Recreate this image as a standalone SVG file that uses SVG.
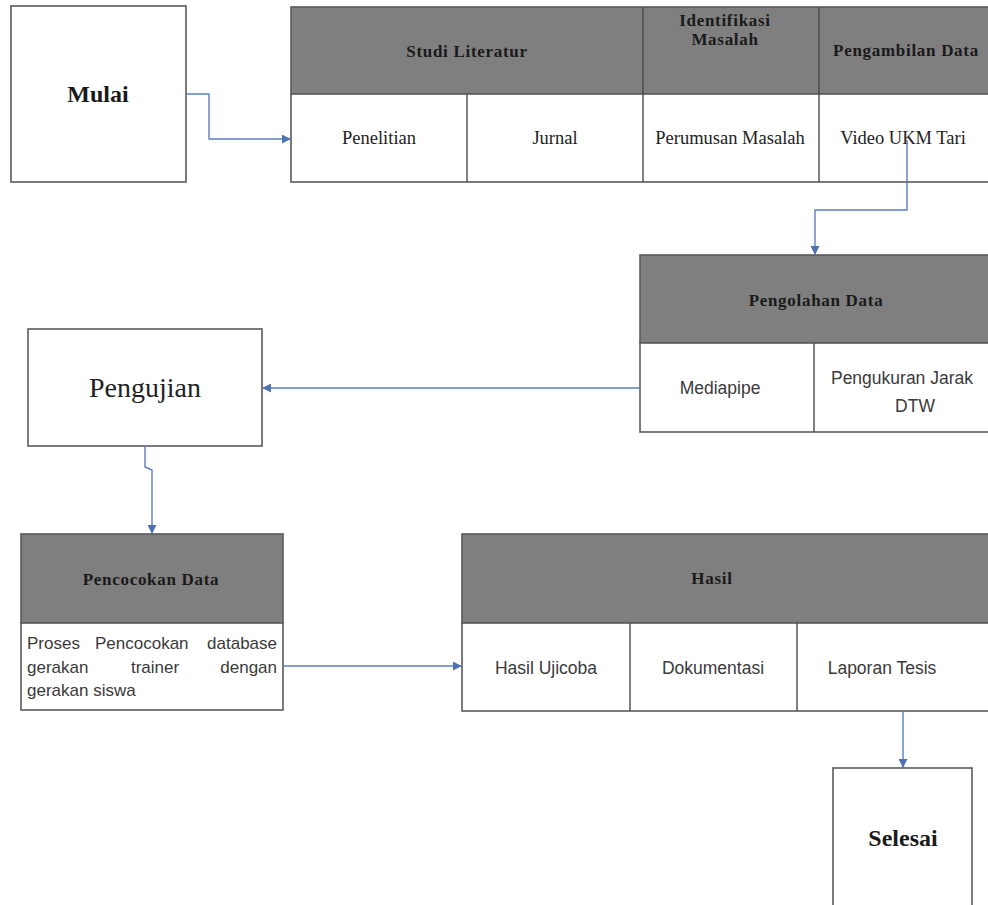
<svg xmlns="http://www.w3.org/2000/svg" width="988" height="905" viewBox="0 0 988 905">
<defs>
<marker id="ah" viewBox="0 0 10 10" refX="9" refY="5" markerWidth="9" markerHeight="9" markerUnits="userSpaceOnUse" orient="auto">
<path d="M0,0 L10,5 L0,10 z" fill="#4f72b0"/>
</marker>
<style>
.box{fill:#ffffff;stroke:#5a5a5a;stroke-width:1.6}
.hdr{fill:#7f7f7f;stroke:#5a5a5a;stroke-width:1.6}
.ln{stroke:#4a4a4a;stroke-width:1.4;fill:none}
.con{fill:none;stroke:#5b80be;stroke-width:1.4;marker-end:url(#ah)}
.hb{font-family:"Liberation Serif","DejaVu Serif",serif;font-weight:bold;font-size:17px;fill:#1a1a1a;text-anchor:middle;letter-spacing:0.7px}
.sr{font-family:"Liberation Serif","DejaVu Serif",serif;font-size:18.5px;fill:#222;text-anchor:middle}
.ss{font-family:"Liberation Sans","DejaVu Sans",sans-serif;font-size:17.5px;fill:#3a3a3a;text-anchor:middle}
.sj{font-family:"Liberation Sans","DejaVu Sans",sans-serif;font-size:17px;fill:#3a3a3a}
.big{font-family:"Liberation Serif","DejaVu Serif",serif;font-weight:bold;font-size:24px;fill:#1a1a1a;text-anchor:middle}
</style>
</defs>
<rect width="988" height="905" fill="#ffffff"/>

<g id="mulai">
<rect class="box" x="11" y="6" width="175" height="176"/>
<text class="big" x="98" y="102">Mulai</text>
</g>

<g id="tahap1">
<rect class="hdr" x="291" y="7" width="700" height="87"/>
<rect class="box" x="291" y="94" width="700" height="88"/>
<line class="ln" x1="643" y1="7" x2="643" y2="182"/>
<line class="ln" x1="819" y1="7" x2="819" y2="182"/>
<line class="ln" x1="467" y1="94" x2="467" y2="182"/>
<text class="hb" x="467" y="57">Studi Literatur</text>
<text class="hb" x="725" y="26">Identifikasi</text>
<text class="hb" x="725" y="45">Masalah</text>
<text class="hb" x="906" y="56">Pengambilan Data</text>
<text class="sr" x="379" y="144">Penelitian</text>
<text class="sr" x="555" y="144">Jurnal</text>
<text class="sr" x="730" y="144">Perumusan Masalah</text>
<text class="sr" x="903" y="144">Video UKM Tari</text>
</g>

<g id="pengolahan">
<rect class="hdr" x="640" y="255" width="352" height="88"/>
<rect class="box" x="640" y="343" width="352" height="89"/>
<line class="ln" x1="814" y1="343" x2="814" y2="432"/>
<text class="hb" x="816" y="306">Pengolahan Data</text>
<text class="ss" x="720" y="394">Mediapipe</text>
<text class="ss" x="902" y="384">Pengukuran Jarak</text>
<text class="ss" x="915" y="412">DTW</text>
</g>

<g id="pengujian">
<rect class="box" x="28" y="329" width="234" height="117"/>
<text x="145" y="397" font-family="Liberation Serif, DejaVu Serif, serif" font-size="28" fill="#222" text-anchor="middle">Pengujian</text>
</g>

<g id="pencocokan">
<rect class="hdr" x="21" y="534" width="262" height="89"/>
<rect class="box" x="21" y="623" width="262" height="87"/>
<text class="hb" x="151" y="585">Pencocokan Data</text>
<text class="sj" x="27" y="649">Proses</text>
<text class="sj" x="95" y="649">Pencocokan</text>
<text class="sj" x="277" y="649" text-anchor="end">database</text>
<text class="sj" x="27" y="673">gerakan</text>
<text class="sj" x="155" y="673" text-anchor="middle">trainer</text>
<text class="sj" x="277" y="673" text-anchor="end">dengan</text>
<text class="sj" x="27" y="696">gerakan siswa</text>
</g>

<g id="hasil">
<rect class="hdr" x="462" y="534" width="530" height="89"/>
<rect class="box" x="462" y="623" width="530" height="88"/>
<line class="ln" x1="630" y1="623" x2="630" y2="711"/>
<line class="ln" x1="797" y1="623" x2="797" y2="711"/>
<text class="hb" x="712" y="584">Hasil</text>
<text class="ss" x="546" y="674">Hasil Ujicoba</text>
<text class="ss" x="713" y="674">Dokumentasi</text>
<text class="ss" x="882" y="674">Laporan Tesis</text>
</g>

<g id="selesai">
<rect class="box" x="833" y="768" width="139" height="150"/>
<text class="big" x="903" y="846">Selesai</text>
</g>

<g id="connectors">
<path class="con" d="M186,94 H209 V139 H290"/>
<path class="con" d="M907,140 V210 H815 V254"/>
<path class="con" d="M640,388 H263"/>
<path class="con" d="M145,446 V467 L152,470 V533"/>
<path class="con" d="M283,666 H461"/>
<path class="con" d="M903,711 V767"/>
</g>
</svg>
